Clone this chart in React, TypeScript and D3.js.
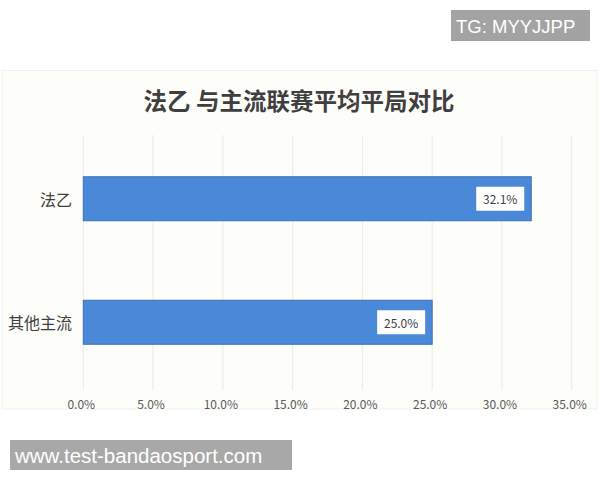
import React from 'react';
import * as d3 from 'd3';

const categories = ['法乙', '其他主流'];
const values = [32.1, 25.0];
const tickValues = [0, 5, 10, 15, 20, 25, 30, 35];
const title = '法乙 与主流联赛平均平局对比';
const topMark = 'TG: MYYJJPP';
const bottomMark = 'www.test-bandaosport.com';

const width = 600;
const height = 480;
const cjk = '"Noto Sans CJK SC", "Noto Sans", sans-serif';
const latin = '"Liberation Sans", Arial, sans-serif';

const App: React.FC = () => {
  const x = d3.scaleLinear().domain([0, 35]).range([83.3, 571.7]);
  const y = d3.scalePoint<string>().domain(categories).range([137, 384]).padding(0.5);
  const barH = 44;
  const fmt = (v: number) => `${v.toFixed(1)}%`;

  return (
    <svg
      width={width}
      height={height}
      style={{ position: 'absolute', left: 0, top: 0, background: '#ffffff' }}
    >
      {/* chart panel */}
      <rect x={2} y={70.5} width={595} height={338.5} fill="#fdfdf9" stroke="#f1f1ea" strokeWidth={1} />

      <text
        x={299}
        y={100}
        textAnchor="middle"
        dominantBaseline="central"
        fontFamily={cjk}
        fontWeight={700}
        fontSize={23.5}
        fill="#3f3f3f"
      >
        {title}
      </text>

      {/* vertical grid */}
      {tickValues.map((t) => (
        <line key={t} x1={x(t)} x2={x(t)} y1={135} y2={390} stroke="#ebebe4" strokeWidth={1} />
      ))}

      {/* bars */}
      {categories.map((c, i) => {
        const cy = y(c) as number;
        const x1 = x(values[i]);
        return (
          <g key={c}>
            <rect
              x={x(0)}
              y={cy - barH / 2}
              width={x1 - x(0)}
              height={barH}
              fill="#4a89d8"
              stroke="#3b70b8"
              strokeWidth={1}
            />
            <rect x={x1 - 55} y={cy - 12} width={48} height={24} fill="#ffffff" />
            <text
              x={x1 - 31}
              y={cy}
              textAnchor="middle"
              dominantBaseline="central"
              fontFamily={cjk}
              fontSize={12}
              fill="#404040"
            >
              {fmt(values[i])}
            </text>
            <text
              x={72}
              y={cy}
              textAnchor="end"
              dominantBaseline="central"
              fontFamily={cjk}
              fontSize={16}
              fill="#404040"
            >
              {c}
            </text>
          </g>
        );
      })}

      {/* x tick labels */}
      {tickValues.map((t) => (
        <text
          key={t}
          x={x(t) - 2}
          y={403}
          textAnchor="middle"
          dominantBaseline="central"
          fontFamily={cjk}
          fontSize={12}
          fill="#595959"
        >
          {fmt(t)}
        </text>
      ))}

      {/* watermarks */}
      <rect x={451} y={10} width={139} height={31} fill="#a3a3a3" />
      <text x={456} y={26} dominantBaseline="central" fontFamily={latin} fontSize={18.5} fill="#ffffff">
        {topMark}
      </text>
      <rect x={10} y={440} width={282} height={30} fill="#a8a8a8" />
      <text x={15} y={455} dominantBaseline="central" fontFamily={latin} fontSize={20.5} fill="#ffffff">
        {bottomMark}
      </text>
    </svg>
  );
};

export default App;
